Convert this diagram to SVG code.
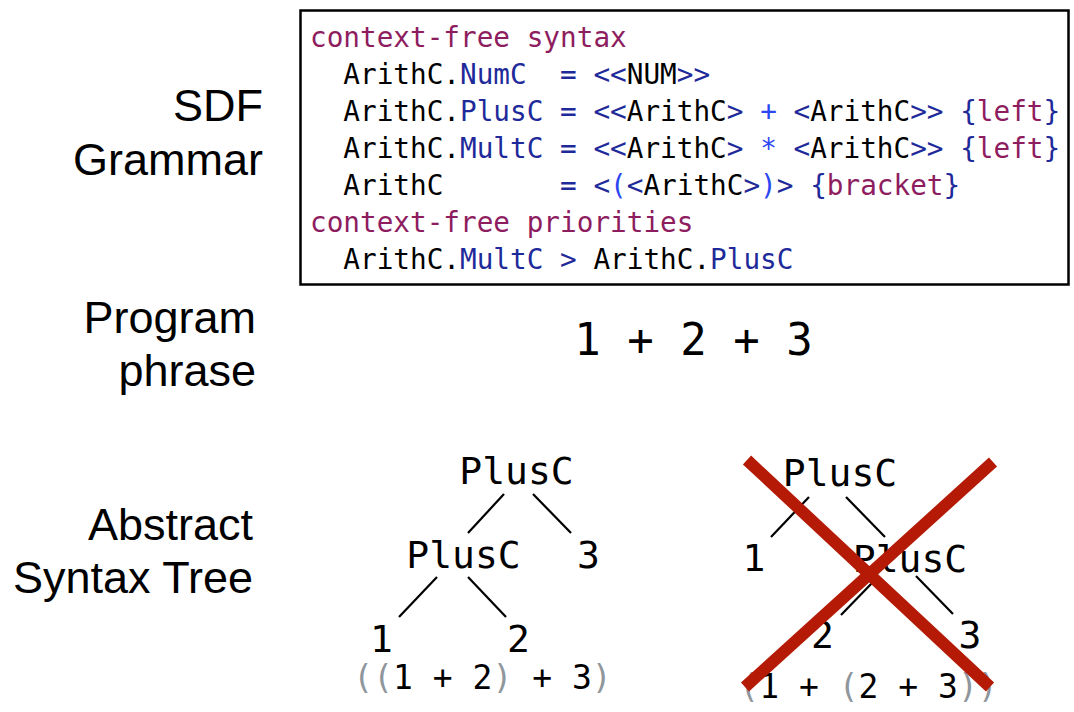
<svg xmlns="http://www.w3.org/2000/svg" width="1074" height="712" viewBox="0 0 1074 712">
  <style>
    .label { font-family: "Liberation Sans", Arial, Helvetica, sans-serif; font-size: 45px; fill: #000; text-anchor: end; }
    .code { font-family: "DejaVu Sans Mono", "Liberation Mono", monospace; font-size: 27.7px; fill: #000; white-space: pre; }
    .kw { fill: #8e1d5f; }
    .cons { fill: #1f2a9a; }
    .op { fill: #2a46f0; }
    .tree { font-family: "DejaVu Sans Mono", "Liberation Mono", monospace; font-size: 38px; fill: #000; text-anchor: middle; }
    .paren-text { font-family: "DejaVu Sans Mono", "Liberation Mono", monospace; font-size: 33px; fill: #000; text-anchor: middle; white-space: pre; }
    .par { fill: #8f969c; }
    .edge { stroke: #000; stroke-width: 2.2; stroke-linecap: butt; }
    .cross { stroke: #b41a06; stroke-width: 12; stroke-linecap: butt; }
  </style>

  <rect width="1074" height="712" fill="#fff"/>

  <g id="labels">
    <text class="label" x="263" y="121">SDF</text>
    <text class="label" x="263" y="175">Grammar</text>
    <text class="label" x="256" y="333">Program</text>
    <text class="label" x="256" y="386">phrase</text>
    <text class="label" x="253" y="540">Abstract</text>
    <text class="label" x="253" y="593">Syntax Tree</text>
  </g>

  <g id="grammar">
    <rect x="300.5" y="10.5" width="768" height="274" fill="#fff" stroke="#000" stroke-width="2.5"/>
    <text class="code" x="310" y="47"><tspan class="kw">context-free syntax</tspan></text>
    <text class="code" x="310" y="84">  ArithC.<tspan class="cons">NumC</tspan>  <tspan class="cons">=</tspan> <tspan class="cons">&lt;&lt;</tspan>NUM<tspan class="cons">&gt;&gt;</tspan></text>
    <text class="code" x="310" y="121">  ArithC.<tspan class="cons">PlusC</tspan> <tspan class="cons">=</tspan> <tspan class="cons">&lt;&lt;</tspan>ArithC<tspan class="cons">&gt;</tspan> <tspan class="op">+</tspan> <tspan class="cons">&lt;</tspan>ArithC<tspan class="cons">&gt;&gt;</tspan> <tspan class="cons">{</tspan><tspan class="kw">left</tspan><tspan class="cons">}</tspan></text>
    <text class="code" x="310" y="158">  ArithC.<tspan class="cons">MultC</tspan> <tspan class="cons">=</tspan> <tspan class="cons">&lt;&lt;</tspan>ArithC<tspan class="cons">&gt;</tspan> <tspan class="op">*</tspan> <tspan class="cons">&lt;</tspan>ArithC<tspan class="cons">&gt;&gt;</tspan> <tspan class="cons">{</tspan><tspan class="kw">left</tspan><tspan class="cons">}</tspan></text>
    <text class="code" x="310" y="195">  ArithC       <tspan class="cons">=</tspan> <tspan class="cons">&lt;</tspan><tspan class="op">(</tspan><tspan class="cons">&lt;</tspan>ArithC<tspan class="cons">&gt;</tspan><tspan class="op">)</tspan><tspan class="cons">&gt;</tspan> <tspan class="cons">{</tspan><tspan class="kw">bracket</tspan><tspan class="cons">}</tspan></text>
    <text class="code" x="310" y="232"><tspan class="kw">context-free priorities</tspan></text>
    <text class="code" x="310" y="269">  ArithC.<tspan class="cons">MultC</tspan> <tspan class="cons">&gt;</tspan> ArithC.<tspan class="cons">PlusC</tspan></text>
  </g>

  <g id="phrase">
    <text x="693.5" y="355" font-family="DejaVu Sans Mono, Liberation Mono, monospace" font-size="44" text-anchor="middle" xml:space="preserve">1 + 2 + 3</text>
  </g>

  <g id="connectors">
    <line class="edge" x1="504" y1="494" x2="468" y2="533"/>
    <line class="edge" x1="533" y1="494" x2="571" y2="533"/>
    <line class="edge" x1="437" y1="577" x2="399" y2="617"/>
    <line class="edge" x1="468" y1="577" x2="506" y2="617"/>
    <line class="edge" x1="809" y1="497" x2="771" y2="537"/>
    <line class="edge" x1="846" y1="497" x2="885" y2="537"/>
    <line class="edge" x1="872" y1="583" x2="841" y2="615"/>
    <line class="edge" x1="916" y1="576" x2="953" y2="614"/>
  </g>

  <g id="tree-left">
    <text class="tree" x="516.5" y="484">PlusC</text>
    <text class="tree" x="463.5" y="568">PlusC</text>
    <text class="tree" x="588.5" y="568">3</text>
    <text class="tree" x="381.5" y="652">1</text>
    <text class="tree" x="518.5" y="652">2</text>
    <text class="paren-text" x="482.5" y="689"><tspan class="par">((</tspan>1 + 2<tspan class="par">)</tspan> + 3<tspan class="par">)</tspan></text>
  </g>

  <g id="tree-right">
    <text class="tree" x="840" y="486">PlusC</text>
    <text class="tree" x="754" y="571">1</text>
    <text class="tree" x="910" y="572">PlusC</text>
    <text class="tree" x="822.5" y="648">2</text>
    <text class="tree" x="970" y="648">3</text>
    <text class="paren-text" x="868.5" y="698"><tspan class="par">(</tspan>1 + <tspan class="par">(</tspan>2 + 3<tspan class="par">))</tspan></text>
  </g>

  <g id="cross">
    <line class="cross" x1="747" y1="460" x2="990" y2="687"/>
    <line class="cross" x1="993" y1="462" x2="745" y2="687"/>
  </g>
</svg>
